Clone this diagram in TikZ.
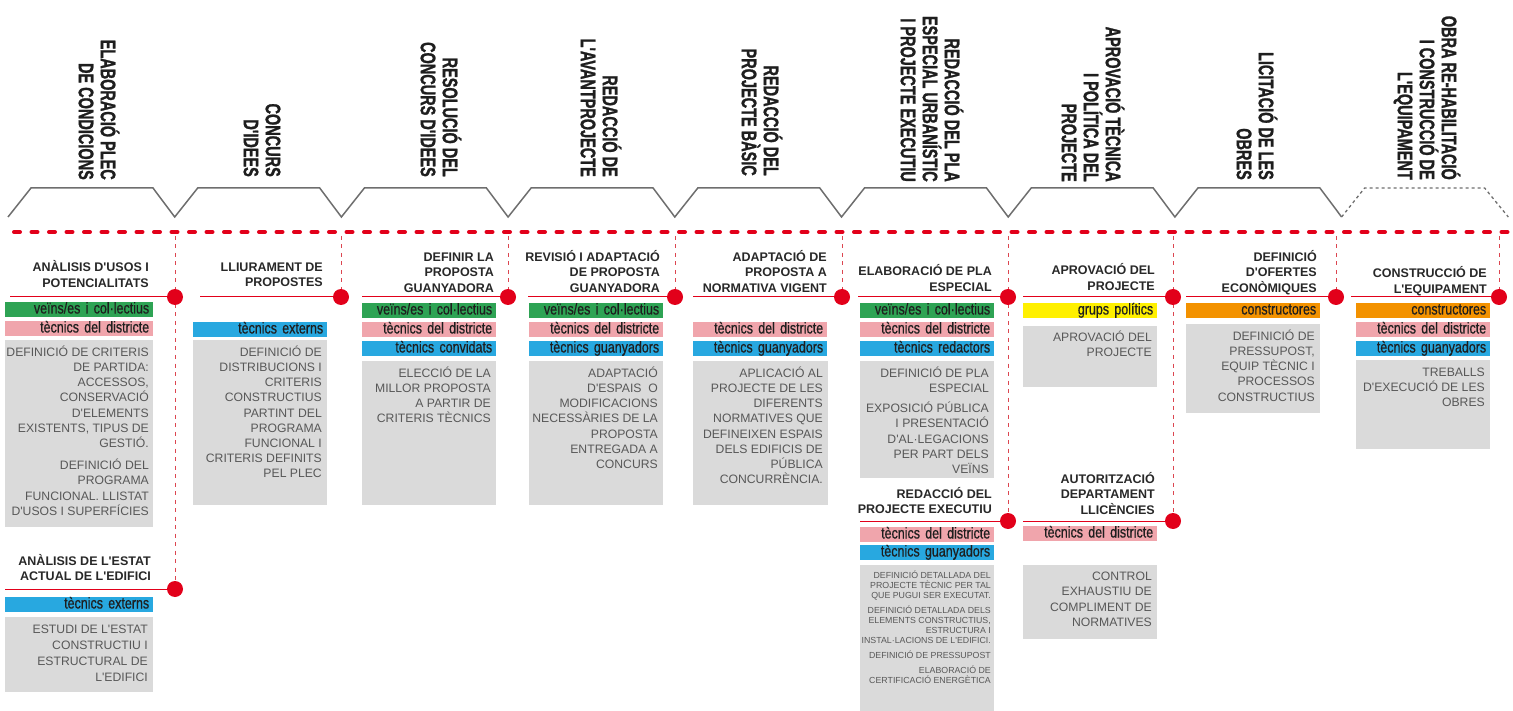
\documentclass[tikz,border=0pt]{standalone}
\usepackage{fontspec}
\setmainfont{Liberation Sans}
\newfontfamily\txtf{Liberation Sans}
\newfontfamily\hdfont[FakeStretch=0.69,FakeBold=1.2]{Liberation Sans Bold}
\newfontfamily\barfnt[FakeStretch=0.79,FakeBold=0.6]{Liberation Sans}
\definecolor{cgreen}{RGB}{46,163,84}
\definecolor{cpink}{RGB}{240,165,172}
\definecolor{cblue}{RGB}{40,168,224}
\definecolor{cyellow}{RGB}{255,240,0}
\definecolor{corange}{RGB}{243,146,0}
\definecolor{boxgray}{RGB}{218,218,218}
\definecolor{gtextc}{RGB}{88,88,88}
\definecolor{ttextc}{RGB}{40,40,40}
\definecolor{htextc}{RGB}{30,30,30}
\definecolor{bartextc}{RGB}{30,30,30}
\definecolor{hred}{RGB}{226,0,26}
\definecolor{vred}{RGB}{220,70,80}
\definecolor{trapc}{RGB}{110,110,110}
\newcommand{\fs}{\rule{0pt}{12pt}}
\newcommand{\fss}{\rule{0pt}{8pt}}
\begin{document}
\begin{tikzpicture}[x=1pt,y=-1pt,
  bar/.style={rectangle, inner xsep=4pt, inner ysep=0pt, minimum height=15pt,
    text height=10.8pt, text depth=3.2pt, text width=#1, align=right,
    anchor=north west, font=\barfnt\fontsize{15.8}{16}\selectfont, text=bartextc},
  bar/.default=126pt,
  gtxt/.style={inner sep=0pt, align=right, anchor=north east,
    font=\txtf\fontsize{12.2}{15.2}\selectfont, text=gtextc},
  stxt/.style={inner sep=0pt, align=right, anchor=north east,
    font=\txtf\fontsize{8.8}{10}\selectfont, text=gtextc},
  ttl/.style={inner sep=0pt, align=right, anchor=south east, text depth=0pt,
    font=\txtf\bfseries\fontsize{12.5}{15.5}\selectfont, text=ttextc},
  hdr/.style={inner sep=0pt, rotate=-90, anchor=east, align=right,
    font=\hdfont\fontsize{21}{22}\selectfont, text=htextc},
  trap/.style={draw=trapc, line width=1.5pt, line join=miter},
  hdash/.style={draw=hred, line width=4pt, line cap=round, dash pattern=on 6pt off 11.5pt},
  vdash/.style={draw=vred, line width=1pt, dash pattern=on 4pt off 4.5pt},
  rline/.style={draw=hred, line width=1pt},
  rdot/.style={circle, fill=hred, inner sep=0pt, minimum size=16pt}
]
\useasboundingbox (0,0) rectangle (1513,711);

% ---------- header trapezoids ----------
\draw[trap] (8,217) -- (31,188) -- (153,188) -- (174.7,217)
  -- (197.7,188) -- (319.7,188) -- (341.4,217)
  -- (364.4,188) -- (486.4,188) -- (508.1,217)
  -- (531.1,188) -- (653.1,188) -- (674.8,217)
  -- (697.8,188) -- (819.8,188) -- (841.5,217)
  -- (864.5,188) -- (986.5,188) -- (1008.2,217)
  -- (1031.2,188) -- (1153.2,188) -- (1174.9,217)
  -- (1197.9,188) -- (1319.9,188) -- (1341.6,217);
\draw[trap, dashed, line width=1.3pt] (1341.6,217) -- (1364.6,188) -- (1484.6,188) -- (1508.3,217);

% ---------- header texts ----------
\node[hdr] (h1) at (99,180) {ELABORACIÓ PLEC\\DE CONDICIONS};
\node[hdr] (h2) at (262,177) {CONCURS\\D'IDEES};
\node[hdr] (h3) at (441,177) {RESOLUCIÓ DEL\\CONCURS D'IDEES};
\node[hdr] (h4) at (601,177) {REDACCIÓ DE\\L'AVANTPROJECTE};
\node[hdr] (h5) at (762,176) {REDACCIÓ DEL\\PROJECTE BÀSIC};
\node[hdr] (h6) at (932,182) {REDACCIÓ DEL PLA\\ESPECIAL URBANÍSTIC\\I PROJECTE EXECUTIU};
\node[hdr] (h7) at (1093,182) {APROVACIÓ TÈCNICA\\I POLÍTICA DEL\\PROJECTE};
\node[hdr] (h8) at (1257,180) {LICITACIÓ DE LES\\OBRES};
\node[hdr] (h9) at (1427,180) {OBRA RE-HABILITACIÓ\\I CONSTRUCCIÓ DE\\L'EQUIPAMENT};

% ---------- red dashed time line ----------
\coordinate (hl) at (14,232);
\coordinate (hr) at (1510,232);
\draw[hdash] (hl) -- (hr);

% ---------- vertical dashed lines ----------
\coordinate (v1) at (175,236);
\coordinate (v2) at (341,236);
\coordinate (v3) at (508,236);
\coordinate (v4) at (675,236);
\coordinate (v5) at (842,236);
\coordinate (v6) at (1008,236);
\coordinate (v7) at (1173,236);
\coordinate (v8) at (1336,236);
\coordinate (v9) at (1499,236);
\coordinate (d1a) at (175,297);
\coordinate (d1b) at (175,589);
\coordinate (d2) at (341,297);
\coordinate (d3) at (508,297);
\coordinate (d4) at (675,297);
\coordinate (d5) at (842,297);
\coordinate (d6a) at (1008,297);
\coordinate (d6b) at (1008,521);
\coordinate (d7a) at (1173,297);
\coordinate (d7b) at (1173,521);
\coordinate (d8) at (1336,297);
\coordinate (d9) at (1499,297);
\draw[vdash] (v1) -- (d1b);
\draw[vdash] (v2) -- (d2);
\draw[vdash] (v3) -- (d3);
\draw[vdash] (v4) -- (d4);
\draw[vdash] (v5) -- (d5);
\draw[vdash] (v6) -- (d6b);
\draw[vdash] (v7) -- (d7b);
\draw[vdash] (v8) -- (d8);
\draw[vdash] (v9) -- (d9);

% ---------- red solid lines ----------
\coordinate (r1a) at (10,297);
\coordinate (r1b) at (5,589);
\coordinate (r2) at (200,297);
\coordinate (r3) at (362,297);
\coordinate (r4) at (528,297);
\coordinate (r5) at (693,297);
\coordinate (r6a) at (858,297);
\coordinate (r6b) at (860,521);
\coordinate (r7a) at (1023,297);
\coordinate (r7b) at (1023,521);
\coordinate (r8) at (1186,297);
\coordinate (r9) at (1351,297);
\draw[rline] (r1a) -- (d1a);
\draw[rline] (r1b) -- (d1b);
\draw[rline] (r2) -- (d2);
\draw[rline] (r3) -- (d3);
\draw[rline] (r4) -- (d4);
\draw[rline] (r5) -- (d5);
\draw[rline] (r6a) -- (d6a);
\draw[rline] (r6b) -- (d6b);
\draw[rline] (r7a) -- (d7a);
\draw[rline] (r7b) -- (d7b);
\draw[rline] (r8) -- (d8);
\draw[rline] (r9) -- (d9);

% ---------- dots ----------
\node[rdot] (p1a) at (d1a) {};
\node[rdot] (p1b) at (d1b) {};
\node[rdot] (p2) at (d2) {};
\node[rdot] (p3) at (d3) {};
\node[rdot] (p4) at (d4) {};
\node[rdot] (p5) at (d5) {};
\node[rdot] (p6a) at (d6a) {};
\node[rdot] (p6b) at (d6b) {};
\node[rdot] (p7a) at (d7a) {};
\node[rdot] (p7b) at (d7b) {};
\node[rdot] (p8) at (d8) {};
\node[rdot] (p9) at (d9) {};

% ---------- gray boxes ----------
\fill[boxgray] (5,340) rectangle (153,527);
\fill[boxgray] (5,617) rectangle (153,692);
\fill[boxgray] (193,340) rectangle (327,505);
\fill[boxgray] (362,361) rectangle (496,505);
\fill[boxgray] (529,361) rectangle (663,505);
\fill[boxgray] (693,361) rectangle (828,505);
\fill[boxgray] (860,361) rectangle (994,478);
\fill[boxgray] (860,565) rectangle (994,711);
\fill[boxgray] (1023,326) rectangle (1157,387);
\fill[boxgray] (1023,565) rectangle (1157,639);
\fill[boxgray] (1186,324) rectangle (1320,413);
\fill[boxgray] (1356,360) rectangle (1490,449);

% ---------- column 1 ----------
\node[ttl] (t1a) at (149,287.5) {ANÀLISIS D'USOS I\\POTENCIALITATS};
\node[bar=140pt, fill=cgreen] (b1g) at (5,302) {veïns/es i col·lectius};
\node[bar=140pt, fill=cpink] (b1p) at (5,321) {tècnics del districte};
\node[gtxt] (g1a) at (149,344) {\fs DEFINICIÓ DE CRITERIS\\DE PARTIDA:\\ACCESSOS,\\CONSERVACIÓ\\D'ELEMENTS\\EXISTENTS, TIPUS DE\\GESTIÓ.\\[7pt]DEFINICIÓ DEL\\PROGRAMA\\FUNCIONAL. LLISTAT\\D'USOS I SUPERFÍCIES};
\node[ttl] (t1b) at (151,581) {ANÀLISIS DE L'ESTAT\\ACTUAL DE L'EDIFICI};
\node[bar=140pt, fill=cblue] (b1b) at (5,597) {tècnics externs};
\node[gtxt, font=\txtf\fontsize{12.2}{16.2}\selectfont] (g1b) at (148,621) {\fs ESTUDI DE L'ESTAT\\CONSTRUCTIU I\\ESTRUCTURAL DE\\L'EDIFICI};

% ---------- column 2 ----------
\node[ttl] (t2) at (323,287) {LLIURAMENT DE\\PROPOSTES};
\node[bar, fill=cblue] (b2b) at (193,322) {tècnics externs};
\node[gtxt] (g2) at (322,344) {\fs DEFINICIÓ DE\\DISTRIBUCIONS I\\CRITERIS\\CONSTRUCTIUS\\PARTINT DEL\\PROGRAMA\\FUNCIONAL I\\CRITERIS DEFINITS\\PEL PLEC};

% ---------- column 3 ----------
\node[ttl] (t3) at (494,292.5) {DEFINIR LA\\PROPOSTA\\GUANYADORA};
\node[bar, fill=cgreen] (b3g) at (362,303) {veïns/es i col·lectius};
\node[bar, fill=cpink] (b3p) at (362,322) {tècnics del districte};
\node[bar, fill=cblue] (b3b) at (362,341) {tècnics convidats};
\node[gtxt] (g3) at (491,365) {\fs ELECCIÓ DE LA\\MILLOR PROPOSTA\\A PARTIR DE\\CRITERIS TÈCNICS};

% ---------- column 4 ----------
\node[ttl] (t4) at (660,292.5) {REVISIÓ I ADAPTACIÓ\\DE PROPOSTA\\GUANYADORA};
\node[bar, fill=cgreen] (b4g) at (529,303) {veïns/es i col·lectius};
\node[bar, fill=cpink] (b4p) at (529,322) {tècnics del districte};
\node[bar, fill=cblue] (b4b) at (529,341) {tècnics guanyadors};
\node[gtxt] (g4) at (658,365) {\fs ADAPTACIÓ\\D'ESPAIS\ \ O\\MODIFICACIONS\\NECESSÀRIES DE LA\\PROPOSTA\\ENTREGADA A\\CONCURS};

% ---------- column 5 ----------
\node[ttl] (t5) at (827,292.5) {ADAPTACIÓ DE\\PROPOSTA A\\NORMATIVA VIGENT};
\node[bar, fill=cpink] (b5p) at (693,322) {tècnics del districte};
\node[bar, fill=cblue] (b5b) at (693,341) {tècnics guanyadors};
\node[gtxt] (g5) at (823,365) {\fs APLICACIÓ AL\\PROJECTE DE LES\\DIFERENTS\\NORMATIVES QUE\\DEFINEIXEN ESPAIS\\DELS EDIFICIS DE\\PÚBLICA\\CONCURRÈNCIA.};

% ---------- column 6 ----------
\node[ttl] (t6a) at (992,291.5) {ELABORACIÓ DE PLA\\ESPECIAL};
\node[bar, fill=cgreen] (b6g) at (860,303) {veïns/es i col·lectius};
\node[bar, fill=cpink] (b6p) at (860,322) {tècnics del districte};
\node[bar, fill=cblue] (b6b) at (860,341) {tècnics redactors};
\node[gtxt] (g6a) at (989,365) {\fs DEFINICIÓ DE PLA\\ESPECIAL\\[5pt]EXPOSICIÓ PÚBLICA\\I PRESENTACIÓ\\D'AL·LEGACIONS\\PER PART DELS\\VEÏNS};
\node[ttl] (t6b) at (992,514) {REDACCIÓ DEL\\PROJECTE EXECUTIU};
\node[bar, fill=cpink] (b6p2) at (860,527) {tècnics del districte};
\node[bar, fill=cblue] (b6b2) at (860,545) {tècnics guanyadors};
\node[stxt] (g6b) at (991,570) {\fss DEFINICIÓ DETALLADA DEL\\PROJECTE TÈCNIC PER TAL\\QUE PUGUI SER EXECUTAT.\\[5pt]DEFINICIÓ DETALLADA DELS\\ELEMENTS CONSTRUCTIUS,\\ESTRUCTURA I\\INSTAL·LACIONS DE L'EDIFICI.\\[5pt]DEFINICIÓ DE PRESSUPOST\\[5pt]ELABORACIÓ DE\\CERTIFICACIÓ ENERGÈTICA};

% ---------- column 7 ----------
\node[ttl] (t7a) at (1155,290.5) {APROVACIÓ DEL\\PROJECTE};
\node[bar, fill=cyellow] (b7y) at (1023,303) {grups polítics};
\node[gtxt] (g7a) at (1152,329.5) {\fs APROVACIÓ DEL\\PROJECTE};
\node[ttl] (t7b) at (1155,514.5) {AUTORITZACIÓ\\DEPARTAMENT\\LLICÈNCIES};
\node[bar, fill=cpink] (b7p) at (1023,526) {tècnics del districte};
\node[gtxt] (g7b) at (1152,568.5) {\fs CONTROL\\EXHAUSTIU DE\\COMPLIMENT DE\\NORMATIVES};

% ---------- column 8 ----------
\node[ttl] (t8) at (1317,292.5) {DEFINICIÓ\\D'OFERTES\\ECONÒMIQUES};
\node[bar, fill=corange] (b8o) at (1186,303) {constructores};
\node[gtxt] (g8) at (1315,328) {\fs DEFINICIÓ DE\\PRESSUPOST,\\EQUIP TÈCNIC I\\PROCESSOS\\CONSTRUCTIUS};

% ---------- column 9 ----------
\node[ttl] (t9) at (1487,293.5) {CONSTRUCCIÓ DE\\L'EQUIPAMENT};
\node[bar, fill=corange] (b9o) at (1356,303) {constructores};
\node[bar, fill=cpink] (b9p) at (1356,322) {tècnics del districte};
\node[bar, fill=cblue] (b9b) at (1356,341) {tècnics guanyadors};
\node[gtxt] (g9) at (1485,364) {\fs TREBALLS\\D'EXECUCIÓ DE LES\\OBRES};
\end{tikzpicture}
\end{document}
